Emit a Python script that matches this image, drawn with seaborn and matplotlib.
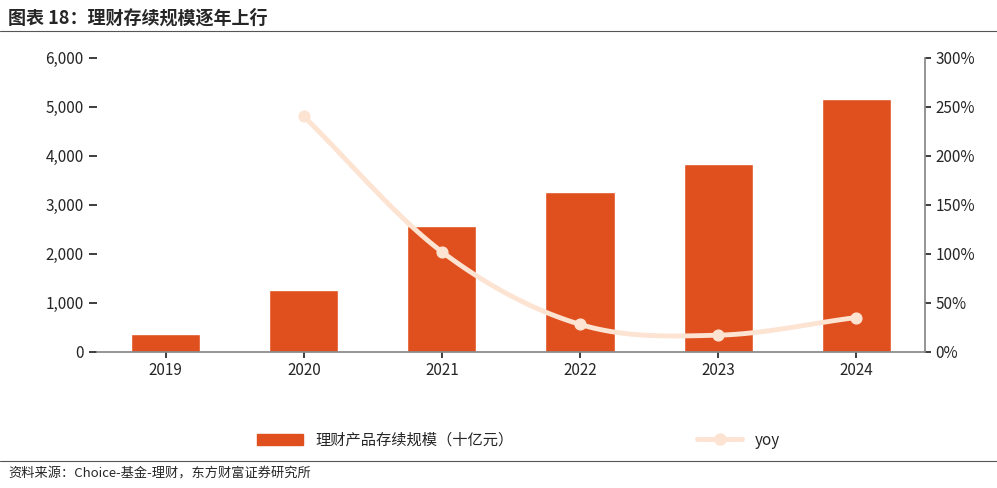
import numpy as np
import pandas as pd
import matplotlib.pyplot as plt
import seaborn as sns
from matplotlib.lines import Line2D

years = ["2019", "2020", "2021", "2022", "2023", "2024"]
scale = [370, 1270, 2560, 3260, 3820, 5160]
yoy_years = ["2020", "2021", "2022", "2023", "2024"]
yoy = [2.40, 1.02, 0.28, 0.17, 0.35]

sns.set_theme(style="white")
plt.rcParams['font.family'] = ['Noto Sans CJK SC', 'DejaVu Sans']

bar_color = "#E0501F"
line_color = "#FCE3D2"

fig = plt.figure(figsize=(9.97, 4.88), dpi=100)
ax = fig.add_axes([0.097, 0.279, 0.831, 0.603])
df = pd.DataFrame({"year": years, "scale": scale})
sns.barplot(data=df, x="year", y="scale", color=bar_color, width=0.5, ax=ax,
            saturation=1)
ax.set_ylim(0, 6000)
ax.set_yticks(range(0, 6001, 1000))
ax.set_yticklabels([f"{v:,}" for v in range(0, 6001, 1000)], fontsize=11)
ax.set_xlabel("")
ax.set_ylabel("")
ax.tick_params(axis="x", labelsize=11, length=4, bottom=True)
for s in ["top", "right", "left"]:
    ax.spines[s].set_visible(False)
ax.spines["bottom"].set_color("#888888")

ax2 = ax.twinx()
xs = np.array([years.index(y) for y in yoy_years], dtype=float)
ys = np.array(yoy)
# Catmull-Rom style smoothing between the data points
px = np.concatenate([[2 * xs[0] - xs[1]], xs, [2 * xs[-1] - xs[-2]]])
py = np.concatenate([[2 * ys[0] - ys[1]], ys, [2 * ys[-1] - ys[-2]]])
cx, cy = [], []
t = np.linspace(0, 1, 30)
for i in range(1, len(px) - 2):
    for arr, out in ((px, cx), (py, cy)):
        p0, p1, p2, p3 = arr[i - 1:i + 3]
        out.extend(0.5 * ((2 * p1) + (-p0 + p2) * t + (2 * p0 - 5 * p1 + 4 * p2 - p3) * t ** 2
                          + (-p0 + 3 * p1 - 3 * p2 + p3) * t ** 3))
ax2.plot(cx, cy, color=line_color, lw=3.5)
ax2.scatter(xs, ys, color=line_color, s=60, zorder=3)
ax2.set_ylim(0, 3)
ax2.set_yticks(np.arange(0, 3.01, 0.5))
ax2.set_yticklabels([f"{int(v*100)}%" for v in np.arange(0, 3.01, 0.5)], fontsize=11)
for s in ["top", "left", "bottom"]:
    ax2.spines[s].set_visible(False)
ax2.spines["right"].set_color("#888888")
ax2.tick_params(axis="y", right=True, length=4)
ax.set_xlim(-0.5, 5.5)

handles = [plt.Rectangle((0, 0), 1, 1, color=bar_color),
           Line2D([0], [0], color=line_color, lw=3.5, marker="o", markersize=8)]
fig.legend(handles, ["理财产品存续规模（十亿元）", "yoy"], loc="center",
           bbox_to_anchor=(0.52, 0.098), ncol=2, frameon=False, fontsize=11,
           columnspacing=12, handlelength=3)

fig.text(0.008, 0.962, "图表 18：理财存续规模逐年上行", fontsize=13, fontweight="bold", va="center")
fig.add_artist(Line2D([0, 1], [0.937, 0.937], color="#555555", lw=0.8))
fig.add_artist(Line2D([0, 1], [0.055, 0.055], color="#555555", lw=0.8))
fig.text(0.008, 0.028, "资料来源：Choice-基金-理财，东方财富证券研究所", fontsize=9.5, va="center")

fig.savefig("out.png", dpi=100)
